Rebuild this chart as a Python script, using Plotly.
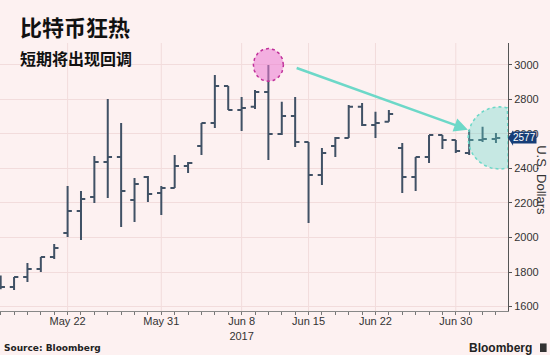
import numpy as np
import plotly.graph_objects as go

# ---- data (weekday OHLC, USD) ----
dates = ["2017-05-15", "2017-05-16", "2017-05-17", "2017-05-18", "2017-05-19",
         "2017-05-22", "2017-05-23", "2017-05-24", "2017-05-25", "2017-05-26",
         "2017-05-29", "2017-05-30", "2017-05-31", "2017-06-01", "2017-06-02",
         "2017-06-05", "2017-06-06", "2017-06-07", "2017-06-08", "2017-06-09",
         "2017-06-12", "2017-06-13", "2017-06-14", "2017-06-15", "2017-06-16",
         "2017-06-19", "2017-06-20", "2017-06-21", "2017-06-22", "2017-06-23",
         "2017-06-26", "2017-06-27", "2017-06-28", "2017-06-29", "2017-06-30",
         "2017-07-03", "2017-07-04", "2017-07-05"]
opens = [1740, 1713, 1771, 1817, 1887,
         2026, 2154, 2235, 2438, 2467,
         2217, 2351, 2258, 2287, 2414,
         2530, 2664, 2878, 2739, 2757,
         2843, 2600, 2704, 2554, 2362,
         2530, 2577, 2757, 2652, 2670,
         2519, 2351, 2467, 2594, 2565,
         2490, 2565, 2571]
highs = [1780, 1771, 1852, 1887, 1962,
         2299, 2270, 2472, 2803, 2664,
         2345, 2357, 2299, 2478, 2438,
         2664, 2942, 2878, 2814, 2855,
         3000, 2786, 2814, 2554, 2519,
         2583, 2768, 2780, 2728, 2739,
         2548, 2467, 2594, 2594, 2565,
         2623, 2641, 2606]
lows = [1700, 1696, 1742, 1800, 1875,
        2003, 1986, 2200, 2229, 2061,
        2090, 2206, 2130, 2287, 2374,
        2478, 2635, 2739, 2617, 2745,
        2449, 2594, 2525, 2084, 2304,
        2467, 2577, 2646, 2577, 2670,
        2258, 2270, 2432, 2513, 2490,
        2478, 2554, 2548]
closes = [1713, 1771, 1817, 1887, 1939,
          2154, 2223, 2438, 2467, 2270,
          2310, 2252, 2287, 2414, 2432,
          2664, 2878, 2739, 2751, 2843,
          2600, 2704, 2554, 2362, 2490,
          2577, 2757, 2652, 2664, 2716,
          2351, 2467, 2594, 2565, 2501,
          2565, 2571, 2577]

label_dates = ["2017-05-22", "2017-05-31", "2017-06-08", "2017-06-15", "2017-06-22", "2017-06-30"]
label_texts = ["May 22", "May 31", "Jun 8<br>2017", "Jun 15", "Jun 22", "Jun 30"]
y_ticks = [1600, 1800, 2000, 2200, 2400, 2600, 2800, 3000]

BG = "#fdf1f1"
GRID = "#f2dcdc"
BAR = "#405165"
TXT = "#333333"
NARROW = "Liberation Sans Narrow, Liberation Sans, Arial, sans-serif"
CJK = "Noto Sans CJK SC, sans-serif"
XRANGE = [-0.05, 37.9]

# trading-day positions (weekdays only, like the original chart)
pos = list(range(len(dates)))
label_pos = [dates.index(d) for d in label_dates]

fig = go.Figure()
fig.add_trace(go.Ohlc(
    x=pos, open=opens, high=highs, low=lows, close=closes,
    increasing=dict(line=dict(color=BAR, width=2)),
    decreasing=dict(line=dict(color=BAR, width=2)),
    tickwidth=0.32, hoverinfo="skip", showlegend=False,
))


def ring(cx, cy, rx, ry):
    t = np.linspace(0, 2 * np.pi, 97)
    xs = np.minimum(cx + rx * np.cos(t), XRANGE[1])  # clip at the plot edge
    return xs, cy + ry * np.sin(t)


# highlight circles (decorations centred on data points)
imax = highs.index(max(highs))
ilast = len(dates) - 1
cx1, cy1 = ring(pos[imax], highs[imax], 1.12, 95)
fig.add_trace(go.Scatter(x=cx1, y=cy1, mode="lines", fill="toself",
                         fillcolor="rgba(235,120,210,0.55)",
                         line=dict(color="#c0309a", width=1.5, dash="dot"),
                         hoverinfo="skip", showlegend=False))
cx2, cy2 = ring(pos[ilast] + 0.25, closes[-1], 2.33, 180)
fig.add_trace(go.Scatter(x=cx2, y=cy2, mode="lines", fill="toself",
                         fillcolor="rgba(95,215,200,0.35)",
                         line=dict(color="#6dd8c8", width=1.5, dash="dot"),
                         hoverinfo="skip", showlegend=False))
fig.add_annotation(x=pos[ilast] - 2.1, y=2625, ax=pos[imax] + 2.0, ay=2985,
                   xref="x", yref="y", axref="x", ayref="y",
                   showarrow=True, arrowhead=2, arrowsize=1.1, arrowwidth=2.5,
                   arrowcolor="#6dd8c8", text="")

# last price tag
fig.add_annotation(x=1, y=closes[-1], xref="paper", yref="y", xanchor="left", yanchor="middle",
                   xshift=4, text=f"{closes[-1]}", showarrow=False,
                   font=dict(family=NARROW, size=10, color="white"),
                   bgcolor="#173e78", borderpad=0)
fig.add_shape(type="path", xref="paper", yref="y",
              path=f"M 1.0 {closes[-1]} L 1.01 {closes[-1] + 45} L 1.01 {closes[-1] - 45} Z",
              fillcolor="#173e78", line=dict(width=0))

# titles and texts
fig.add_annotation(x=0.035, y=1.062, xref="paper", yref="paper", xanchor="left", yanchor="middle",
                   text="<b>比特币狂热</b>", showarrow=False,
                   font=dict(family=CJK, size=22, color="#111111"))
fig.add_annotation(x=0.035, y=0.945, xref="paper", yref="paper", xanchor="left", yanchor="middle",
                   text="<b>短期将出现回调</b>", showarrow=False,
                   font=dict(family=CJK, size=16, color="#111111"))
fig.add_annotation(x=0.004, y=-0.137, xref="paper", yref="paper", xanchor="left", yanchor="middle",
                   text="<b>Source: Bloomberg</b>", showarrow=False,
                   font=dict(family="DejaVu Sans, sans-serif", size=9, color="#222222"))
fig.add_annotation(x=1.052, y=-0.137, xref="paper", yref="paper", xanchor="right", yanchor="middle",
                   text="<b>Bloomberg</b>", showarrow=False,
                   font=dict(family=NARROW, size=12, color="#222222"))
fig.add_shape(type="rect", xref="paper", yref="paper", x0=1.063, x1=1.076, y0=-0.153, y1=-0.121,
              fillcolor="#333333", line=dict(width=0))
fig.add_annotation(x=1.066, y=0.49, xref="paper", yref="paper", xanchor="center", yanchor="middle",
                   text="U.S. Dollars", textangle=90, showarrow=False,
                   font=dict(family=NARROW, size=13, color=TXT))

# vertical gridlines only at the labelled dates
for p in label_pos:
    fig.add_shape(type="line", xref="x", yref="paper", x0=p, x1=p, y0=0, y1=1,
                  line=dict(color=GRID, width=1), layer="below")

fig.update_layout(
    width=550, height=355,
    margin=dict(l=0, r=42, t=43, b=44),
    paper_bgcolor=BG, plot_bgcolor=BG,
    showlegend=False,
    xaxis=dict(type="linear", range=XRANGE, rangeslider=dict(visible=False),
               tickmode="array", tickvals=pos,
               ticktext=[label_texts[label_pos.index(p)] if p in label_pos else "" for p in pos],
               ticks="outside", ticklen=3, tickcolor="#777777", tickwidth=1,
               ticklabelstandoff=-3,
               showgrid=False, showline=True, linecolor="#888888", linewidth=1,
               tickfont=dict(family=NARROW, size=11, color=TXT), tickangle=0,
               zeroline=False, fixedrange=True),
    yaxis=dict(side="right", range=[1574, 3127], tickmode="array", tickvals=y_ticks,
               ticks="outside", ticklen=3, tickcolor="#555555",
               showgrid=True, gridcolor=GRID, gridwidth=1,
               showline=True, linecolor="#555555", linewidth=1,
               tickfont=dict(family=NARROW, size=11, color=TXT),
               zeroline=False, fixedrange=True),
)

fig.write_html("out.html")
